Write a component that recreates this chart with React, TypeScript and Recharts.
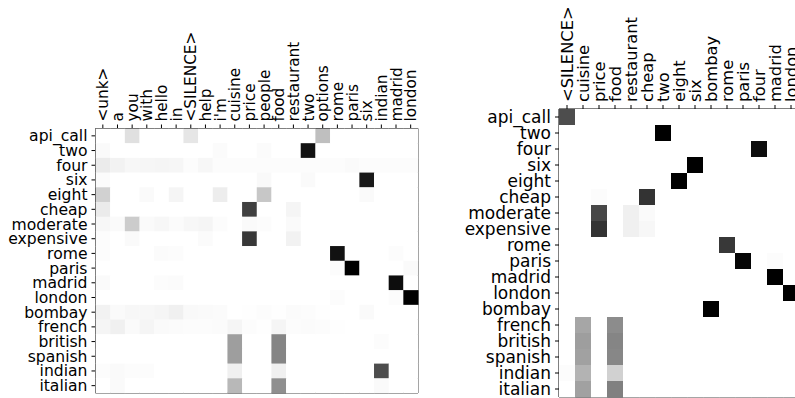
import React from 'react';
import { ScatterChart, Scatter, XAxis, YAxis, ReferenceArea } from 'recharts';

// left panel: words seen in the story vs. answer words
const leftCols = ['<unk>', 'a', 'you', 'with', 'hello', 'in', '<SILENCE>', 'help', "i'm", 'cuisine', 'price', 'people', 'food', 'restaurant', 'two', 'options', 'rome', 'paris', 'six', 'indian', 'madrid', 'london'];
const leftRows = ['api_call', 'two', 'four', 'six', 'eight', 'cheap', 'moderate', 'expensive', 'rome', 'paris', 'madrid', 'london', 'bombay', 'french', 'british', 'spanish', 'indian', 'italian'];
const leftValues = [
  [0, 0, .12, 0, 0, 0, .1, 0, 0, 0, 0, 0, 0, 0, 0, .25, 0, 0, 0, 0, 0, 0],
  [.02, 0, 0, 0, 0, 0, 0, 0, .015, 0, 0, .015, 0, 0, .93, 0, 0, 0, 0, 0, 0, 0],
  [.08, .05, .03, .035, .04, .035, .01, .03, .01, .01, .01, .01, .01, .01, .01, .01, .01, .02, .01, .01, .01, .01],
  [.015, 0, 0, 0, 0, 0, 0, 0, 0, 0, 0, .025, 0, 0, .02, 0, 0, 0, .9, 0, 0, 0],
  [.18, 0, 0, .02, 0, .04, 0, 0, .07, 0, 0, .22, 0, 0, 0, 0, 0, 0, .02, 0, 0, 0],
  [.08, 0, 0, 0, 0, 0, 0, 0, 0, 0, .75, 0, 0, .04, 0, 0, 0, 0, 0, 0, 0, 0],
  [.03, .02, .2, .02, .03, .015, .03, .04, .01, 0, .02, .01, 0, .02, 0, 0, 0, 0, 0, 0, 0, 0],
  [.01, 0, .02, 0, 0, 0, 0, .015, 0, 0, .78, 0, 0, .05, 0, 0, 0, 0, 0, 0, 0, 0],
  [.01, 0, 0, 0, .015, .01, 0, 0, 0, 0, 0, 0, 0, 0, 0, 0, .93, 0, 0, 0, .01, 0],
  [0, 0, 0, 0, 0, 0, 0, 0, 0, 0, 0, 0, 0, 0, 0, 0, .01, 1, 0, 0, 0, .02],
  [.02, 0, 0, 0, .01, .015, 0, 0, 0, 0, 0, 0, 0, 0, 0, 0, 0, 0, 0, 0, .95, 0],
  [0, 0, 0, 0, 0, 0, 0, 0, 0, 0, 0, 0, 0, 0, 0, 0, .01, 0, 0, 0, .01, 1],
  [.05, .02, .03, .03, .04, .06, .025, .02, .015, 0, .005, .01, .005, .015, .01, .005, 0, 0, .02, 0, 0, 0],
  [.04, .06, .02, .04, .02, .015, .01, .01, .015, .04, .01, .005, .04, .01, .015, .01, .005, 0, 0, 0, 0, 0],
  [0, 0, 0, 0, 0, 0, 0, 0, 0, .38, 0, 0, .48, 0, 0, 0, 0, 0, 0, .01, 0, 0],
  [0, 0, 0, 0, 0, 0, 0, 0, 0, .38, 0, 0, .48, 0, 0, 0, 0, 0, 0, 0, 0, 0],
  [.01, .02, .01, .01, 0, 0, 0, 0, 0, .06, 0, 0, .06, 0, 0, 0, 0, 0, 0, .7, 0, 0],
  [0, .02, 0, 0, 0, 0, 0, 0, 0, .28, 0, 0, .44, 0, 0, 0, 0, 0, 0, .02, 0, 0],
];

// right panel
const rightCols = ['<SILENCE>', 'cuisine', 'price', 'food', 'restaurant', 'cheap', 'two', 'eight', 'six', 'bombay', 'rome', 'paris', 'four', 'madrid', 'london'];
const rightRows = leftRows;
const rightValues = [
  [.7, 0, 0, 0, 0, 0, 0, 0, 0, 0, 0, 0, 0, 0, 0],
  [0, 0, 0, 0, 0, 0, 1, 0, 0, 0, 0, 0, 0, 0, 0],
  [0, 0, 0, 0, 0, 0, 0, 0, 0, 0, 0, 0, .95, 0, 0],
  [0, 0, 0, 0, 0, 0, 0, 0, 1, 0, 0, 0, 0, 0, 0],
  [0, 0, 0, 0, 0, 0, 0, 1, 0, 0, 0, 0, 0, 0, 0],
  [0, 0, .01, 0, 0, .8, 0, 0, 0, 0, 0, 0, 0, 0, 0],
  [0, 0, .72, 0, .06, .02, 0, 0, 0, 0, 0, 0, 0, 0, 0],
  [0, 0, .8, 0, .06, .03, 0, 0, 0, 0, 0, 0, 0, 0, 0],
  [0, 0, 0, 0, 0, 0, 0, 0, 0, 0, .78, 0, 0, 0, 0],
  [0, 0, 0, 0, 0, 0, 0, 0, 0, 0, 0, .98, 0, .01, 0],
  [0, 0, 0, 0, 0, 0, 0, 0, 0, 0, 0, 0, 0, 1, 0],
  [0, 0, 0, 0, 0, 0, 0, 0, 0, 0, 0, 0, 0, 0, 1],
  [0, 0, 0, 0, 0, 0, 0, 0, 0, 1, 0, 0, 0, 0, 0],
  [0, .35, 0, .45, 0, 0, 0, 0, 0, 0, 0, 0, 0, 0, 0],
  [0, .38, 0, .48, 0, 0, 0, 0, 0, 0, 0, 0, 0, 0, 0],
  [0, .37, 0, .47, 0, 0, 0, 0, 0, 0, 0, 0, 0, 0, 0],
  [.01, .3, 0, .18, 0, 0, 0, 0, 0, 0, 0, 0, 0, 0, 0],
  [0, .37, 0, .5, 0, 0, 0, 0, 0, 0, 0, 0, 0, 0, 0],
];

const FONT = 'DejaVu Sans';

const grey = (v: number) => {
  const g = Math.round(255 * (1 - v));
  return `rgb(${g},${g},${g})`;
};

const toCells = (vals: number[][]) =>
  vals.flatMap((row, y) => row.map((v, x) => ({ x, y, v })));

interface PanelProps {
  cols: string[];
  rows: string[];
  values: number[][];
  width: number;
  height: number;
  margin: { top: number; right: number; bottom: number; left: number };
  yAxisWidth: number;
  xAxisHeight: number;
  fontSize: number;
  topFontSize: number;
  bottomTicks: boolean;
}

const Heatmap: React.FC<PanelProps> = ({ cols, rows, values, width, height, margin, yAxisWidth, xAxisHeight, fontSize, topFontSize, bottomTicks }) => {
  const plotW = width - margin.left - margin.right - yAxisWidth;
  const plotH = height - margin.top - margin.bottom - xAxisHeight - (bottomTicks ? 5 : 0);
  const cw = plotW / cols.length;
  const ch = plotH / rows.length;
  const colIdx = cols.map((_, i) => i);
  const rowIdx = rows.map((_, i) => i);

  const TopTick = ({ x, y, payload }: any) => (
    <text
      x={x}
      y={y}
      transform={`rotate(-90, ${x}, ${y})`}
      textAnchor="start"
      dy="0.36em"
      fontSize={topFontSize}
      fontFamily={FONT}
      fill="#000"
    >
      {cols[payload.value]}
    </text>
  );

  const Cell = ({ cx, cy, payload }: any) => (
    <rect x={cx - cw / 2} y={cy - ch / 2} width={cw + 0.3} height={ch + 0.3} fill={grey(payload.v)} />
  );

  return (
    <ScatterChart width={width} height={height} margin={margin}>
      <XAxis
        xAxisId="top"
        orientation="top"
        type="number"
        dataKey="x"
        domain={[-0.5, cols.length - 0.5]}
        ticks={colIdx}
        interval={0}
        height={xAxisHeight}
        axisLine={false}
        tickSize={4}
        tickMargin={3}
        tickLine={{ stroke: '#000' }}
        tick={<TopTick />}
      />
      {bottomTicks && (
        <XAxis
          xAxisId="bot"
          orientation="bottom"
          type="number"
          domain={[-0.5, cols.length - 0.5]}
          ticks={colIdx}
          interval={0}
          height={5}
          axisLine={false}
          tickSize={4}
          tickLine={{ stroke: '#000' }}
          tick={false}
        />
      )}
      <YAxis
        type="number"
        dataKey="y"
        reversed
        domain={[-0.5, rows.length - 0.5]}
        ticks={rowIdx}
        interval={0}
        width={yAxisWidth}
        axisLine={false}
        tickSize={4}
        tickMargin={4}
        tickLine={{ stroke: '#000' }}
        tickFormatter={(i: number) => rows[i]}
        tick={{ fontSize, fontFamily: FONT, fill: '#000' }}
      />
      <Scatter xAxisId="top" data={toCells(values)} shape={<Cell />} isAnimationActive={false} />
      <ReferenceArea
        xAxisId="top"
        x1={-0.5}
        x2={cols.length - 0.5}
        y1={-0.5}
        y2={rows.length - 0.5}
        fill="none"
        fillOpacity={0}
        stroke="#000"
        strokeWidth={1}
        ifOverflow="visible"
      />
    </ScatterChart>
  );
};

export default function App() {
  return (
    <div style={{ position: 'absolute', left: 0, top: 0, width: 795, height: 398, overflow: 'hidden', background: '#fff' }}>
      <div style={{ position: 'absolute', left: 0, top: 0 }}>
        <Heatmap
          cols={leftCols}
          rows={leftRows}
          values={leftValues}
          width={430}
          height={398}
          margin={{ top: 8.5, right: 12, bottom: 0, left: 10.5 }}
          yAxisWidth={85}
          xAxisHeight={120}
          fontSize={15.6}
          topFontSize={15.3}
          bottomTicks
        />
      </div>
      <div style={{ position: 'absolute', left: 430, top: 0 }}>
        <Heatmap
          cols={rightCols}
          rows={rightRows}
          values={rightValues}
          width={380}
          height={410}
          margin={{ top: 9, right: 11, bottom: 13, left: 9 }}
          yAxisWidth={120}
          xAxisHeight={100}
          fontSize={17}
          topFontSize={16.3}
          bottomTicks={false}
        />
      </div>
    </div>
  );
}
